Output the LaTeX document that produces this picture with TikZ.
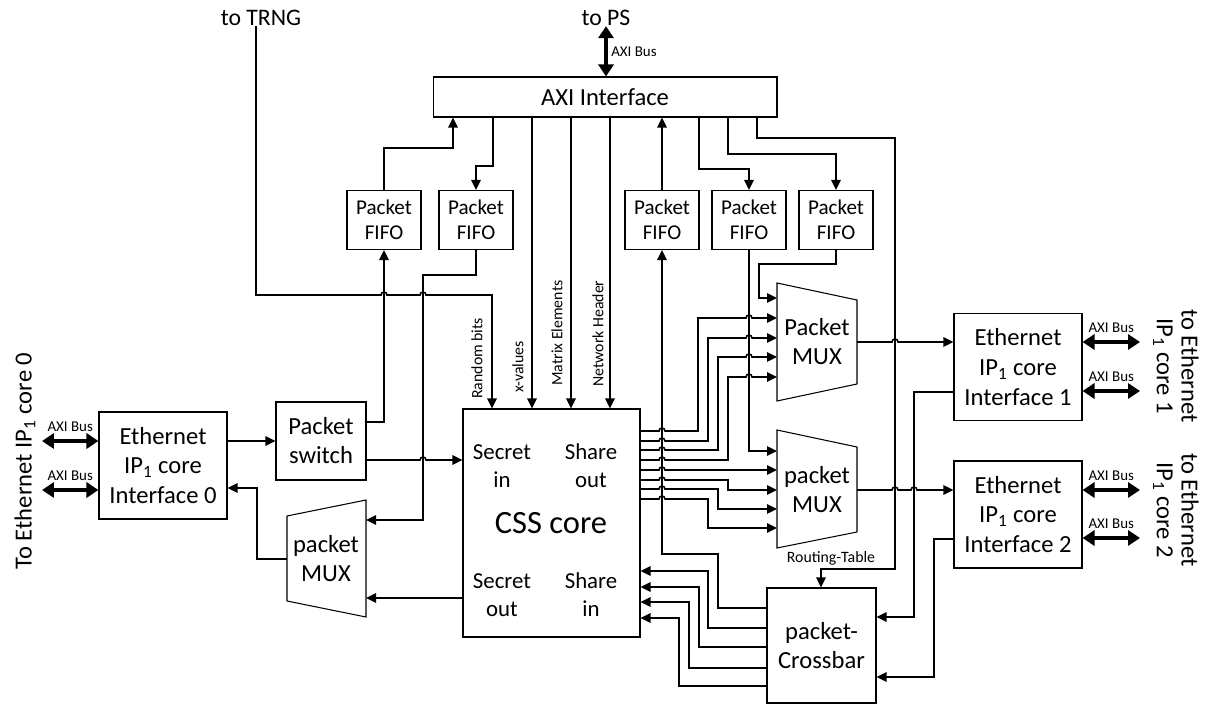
\documentclass[tikz,border=0pt]{standalone}
\usepackage{fontspec}
\setmainfont{Carlito}
\usetikzlibrary{positioning,arrows.meta,calc}
\tikzset{
  box/.style={draw, line width=0.6pt, align=center, inner sep=0pt, font=\fontsize{14}{16.5}\selectfont},
  fifo/.style={box, minimum width=1.48cm, minimum height=1.18cm, font=\fontsize{12}{14.5}\selectfont},
  eth/.style={box, minimum width=2.56cm, minimum height=2.14cm, font=\fontsize{14}{17}\selectfont},
  lbl/.style={align=center, inner sep=0pt, font=\fontsize{14}{16.5}\selectfont},
  port/.style={align=center, inner sep=0pt, font=\fontsize{13}{16}\selectfont},
  small/.style={inner sep=1pt, font=\fontsize{8.5}{9}\selectfont},
  tag/.style={inner sep=0pt, font=\fontsize{9}{10}\selectfont},
  mux/.style={draw, line width=0.6pt},
  sig/.style={-{Triangle[length=2mm,width=1.9mm]}, line width=0.9pt},
  bus/.style={{Triangle[length=2.4mm,width=3mm]}-{Triangle[length=2.4mm,width=3mm]}, line width=2pt},
  jump/.style args={#1/#2}{insert path={-- (#1-3,#2) arc[start angle=180,end angle=0,radius=0.06cm]}},
}
\begin{document}
\begin{tikzpicture}[x=0.02cm, y=-0.02cm]
  \useasboundingbox (0,0) rectangle (1211,706);

  % outside ends
  \node[lbl, font=\fontsize{13.5}{16}\selectfont] (trng) at (261,18) {to TRNG};
  \node[lbl, font=\fontsize{13.5}{16}\selectfont] (tops) at (606,18) {to PS};
  \node[lbl, rotate=90] (toA) at (25,461) {To Ethernet IP\textsubscript{1} core 0};
  \node[lbl, rotate=-90] (toB) at (1190,366) {to Ethernet};
  \node[lbl, rotate=-90] (ipB) at (1163,366) {IP\textsubscript{1} core 1};
  \node[lbl, rotate=-90] (toC) at (1190,510) {to Ethernet};
  \node[lbl, rotate=-90] (ipC) at (1163,510) {IP\textsubscript{1} core 2};

  % blocks
  \node[box, minimum width=6.88cm, minimum height=0.8cm] (axi) at (605,97) {AXI Interface};
  \node[fifo] (fifoA) at (384,220) {Packet\\FIFO};
  \node[fifo] (fifoB) at (476,220) {Packet\\FIFO};
  \node[fifo] (fifoC) at (662,220) {Packet\\FIFO};
  \node[fifo] (fifoD) at (749,220) {Packet\\FIFO};
  \node[fifo] (fifoE) at (836,220) {Packet\\FIFO};
  \node[eth] (ethA) at (163,465.5) {Ethernet\\IP\textsubscript{1} core\\Interface 0};
  \node[eth] (ethB) at (1018,367) {Ethernet\\IP\textsubscript{1} core\\Interface 1};
  \node[eth] (ethC) at (1018,514.5) {Ethernet\\IP\textsubscript{1} core\\Interface 2};
  \node[box, minimum width=1.8cm, minimum height=1.56cm] (psw) at (321,441) {Packet\\switch};
  \node[box, minimum width=2.18cm, minimum height=2.3cm] (xbar) at (821.5,645.5) {packet-\\Crossbar};

  % CSS core
  \node[box, minimum width=3.54cm, minimum height=4.56cm] (css) at (551.5,523) {};
  \node[port] (secin) at (502,466) {Secret\\in};
  \node[port] (shout) at (591,466) {Share\\out};
  \node[lbl, font=\fontsize{18.5}{20}\selectfont] (csslbl) at (551,523) {CSS core};
  \node[port] (secout) at (502,595) {Secret\\out};
  \node[port] (shin) at (591,595) {Share\\in};

  % multiplexers
  \draw[mux] (777,283) coordinate (muxA-l) -- (857,300) -- (857,384) coordinate (muxA-r) -- (777,401) -- cycle;
  \node[lbl] (muxA) at (817,342) {Packet\\MUX};
  \draw[mux] (777,430) coordinate (muxB-l) -- (857,447) -- (857,532) coordinate (muxB-r) -- (777,548) -- cycle;
  \node[lbl] (muxB) at (817,490) {packet\\MUX};
  \draw[mux] (287,516) coordinate (muxL-l) -- (366,500) coordinate (muxL-r) -- (366,617) -- (287,601) -- cycle;
  \node[lbl] (muxL) at (326,559) {packet\\MUX};

  % labels
  \node[tag, rotate=90, anchor=west] (rnd) at (477,399) {Random bits};
  \node[tag, rotate=90, anchor=west] (xval) at (518,393) {x-values};
  \node[tag, rotate=90, anchor=west] (matel) at (557,386) {Matrix Elements};
  \node[tag, rotate=90, anchor=west] (nethd) at (598,387) {Network Header};
  \node[tag] (rt) at (831,558) {Routing-Table};

  % AXI buses
  \draw[bus] (tops.south) -- (axi.north -| tops.south) node[small, midway, anchor=west, xshift=1pt] (psbus) {AXI Bus};
  \foreach \nm/\yy in {a/441, b/490}{
    \coordinate (extA\nm) at (42,\yy);
    \draw[bus] (extA\nm) -- node[small, above=3.5pt] (busA\nm) {AXI Bus} (ethA.west |- extA\nm);
  }
  \foreach \nd/\nm/\yy in {ethB/Ba/342, ethB/Bb/391, ethC/Ca/490, ethC/Cb/538}{
    \coordinate (ext\nm) at (1140,\yy);
    \draw[bus] (\nd.east |- ext\nm) -- node[small, above=3.5pt] (bus\nm) {AXI Bus} (ext\nm);
  }

  % TRNG
  \draw[sig] (trng.south -| 256,0) -- (256,295) [jump=384/295] [jump=423/295] -- (492,295) -- (css.north -| 492,0);

  % Interface 0 side
  \draw[sig] (ethA.east |- 0,441) -- (psw.west |- 0,441);
  \draw[sig] (psw.east |- 0,422) -| (fifoA.south);
  \draw[sig] (psw.east |- 0,460) [jump=423/460] -- (css.west |- 0,460);
  \draw[sig] (fifoB.south) |- (423,275) |- (muxL-r |- 0,520);
  \draw[sig] (css.west |- 0,598) -- (muxL-r |- 0,598);
  \draw[sig] (muxL-l |- 0,559) -| (257,488) -- (ethA.east |- 0,488);

  % AXI interface and FIFOs
  \draw[sig] (fifoA.north) |- (453,148) -- (axi.south -| 453,0);
  \draw[sig] (axi.south -| 493,0) |- (476,166) -- (fifoB.north);
  \foreach \xx in {532,571,610}
    \draw[sig] (axi.south -| \xx,0) -- (css.north -| \xx,0);
  \draw[sig] (fifoC.north) -- (axi.south -| fifoC.north);
  \draw[sig] (axi.south -| 699,0) |- (749,169) -- (fifoD.north);
  \draw[sig] (axi.south -| 728,0) |- (836,154) -- (fifoE.north);
  \draw[sig] (axi.south -| 757,0) |- (895,138) -- (895,569) -| (xbar.north -| 821,0);

  % FIFOs to multiplexers
  \draw[sig] (fifoE.south) |- (759,264) |- (muxA-l |- 0,298);
  \draw[sig] (fifoD.south) |- (muxB-l |- 0,451);

  % share out
  \foreach \ys/\xt/\yt in {431/698/318, 441/708/338, 450/718/357, 460/728/377}
    \draw[sig] (css.east |- 0,\ys) [jump=662/\ys] -| (\xt,\yt) [jump=749/\yt] -- (muxA-l |- 0,\yt);
  \foreach \ys/\xt/\yt in {470/740/470, 480/728/490, 489/718/509, 499/708/528}
    \draw[sig] (css.east |- 0,\ys) [jump=662/\ys] -| (\xt,\yt) -- (muxB-l |- 0,\yt);

  % multiplexers to interfaces
  \draw[sig] (muxA-r |- 0,342) [jump=895/342] -- (ethB.west |- 0,342);
  \draw[sig] (muxB-r |- 0,490) [jump=895/490] [jump=914/490] -- (ethC.west |- 0,490);

  % crossbar
  \draw[sig] (ethB.west |- 0,392) -| (914,617) -- (xbar.east |- 0,617);
  \draw[sig] (ethC.west |- 0,539) -| (934,677) -- (xbar.east |- 0,677);
  \draw[sig] (xbar.west |- 0,608) -| (718,554) -| (fifoC.south);
  \foreach \yo/\xv/\yi in {628/708/571, 647/699/587, 668/689/602, 686/679/618}
    \draw[sig] (xbar.west |- 0,\yo) -| (\xv,\yi) -- (css.east |- 0,\yi);
\end{tikzpicture}
\end{document}
